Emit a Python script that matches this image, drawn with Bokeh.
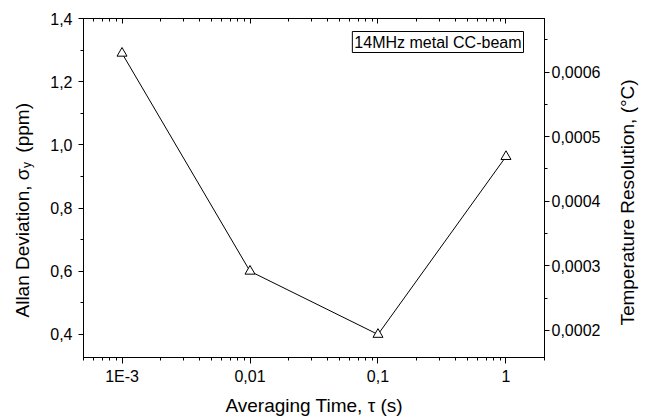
import math
from bokeh.plotting import figure
from bokeh.models import (Range1d, LinearAxis, LogAxis, FixedTicker, SingleIntervalTicker,
                          CustomJSTickFormatter, Label, ColumnDataSource)
from bokeh.embed import file_html
from bokeh.resources import INLINE

# ---- data ----
tau = [0.001, 0.01, 0.1, 1]
allan_dev = [1.29, 0.60, 0.40, 0.963]
x_tick_values = [0.001, 0.01, 0.1, 1]
x_tick_labels = ["1E-3", "0,01", "0,1", "1"]
box_text = "14MHz metal CC-beam"
x_title = "Averaging Time, \u03c4 (s)"
y_title_main = "Allan Deviation, \u03c3\u00a0\u00a0\u00a0(ppm)"
y_title_sub = "y"
y2_title = "Temperature Resolution, (\u00b0C)"

FONT = "Liberation Sans"
TICK_FS = "16px"
TITLE_FS = "19px"

p = figure(width=648, height=418, x_axis_type="log",
           x_range=Range1d(0.0005, 2), y_range=Range1d(0.327, 1.4001),
           output_backend="svg", toolbar_location=None,
           min_border_left=83, min_border_right=104, min_border_top=18, min_border_bottom=61)
p.extra_y_ranges = {"temp": Range1d(0.000158, 0.000683)}
p.xgrid.visible = False
p.ygrid.visible = False
p.outline_line_color = "black"
p.outline_line_alpha = 1.0
p.background_fill_color = "white"
p.border_fill_color = "white"

minor = []
for d in [0.0001, 0.001, 0.01, 0.1, 1]:
    for m in range(2, 10):
        v = m * d
        if 0.0005 <= v <= 2.0001:
            minor.append(v)
x_ticker = FixedTicker(ticks=x_tick_values, minor_ticks=minor)
x_fmt = CustomJSTickFormatter(args=dict(vals=x_tick_values, labs=x_tick_labels), code="""
    let best = 0, bd = 1e9;
    for (let i = 0; i < vals.length; i++) {
        const d = Math.abs(Math.log10(vals[i]) - Math.log10(tick));
        if (d < bd) { bd = d; best = i; }
    }
    return labs[best];
""")


def style(ax, maj_in, maj_out, min_in, min_out, standoff):
    ax.axis_line_color = "black"
    ax.axis_line_width = 1
    ax.major_tick_line_color = "black"
    ax.minor_tick_line_color = "black"
    ax.major_tick_in = maj_in
    ax.major_tick_out = maj_out
    ax.minor_tick_in = min_in
    ax.minor_tick_out = min_out
    ax.major_label_text_font = FONT
    ax.major_label_text_font_size = TICK_FS
    ax.major_label_text_color = "black"
    ax.major_label_standoff = standoff


xa = p.xaxis[0]
xa.ticker = x_ticker
xa.formatter = x_fmt
style(xa, 0, 6, 0, 3, 4)

ya = p.yaxis[0]
ya.ticker = SingleIntervalTicker(interval=0.2, num_minor_ticks=2)
ya.formatter = CustomJSTickFormatter(code="return tick.toFixed(1).replace('.', ',');")
style(ya, 0, 5, 0, 3, 6)

top = LogAxis(ticker=x_ticker, formatter=CustomJSTickFormatter(code="return '';"))
style(top, 5, 0, 3, 0, 0)
top.major_label_text_font_size = "0px"
p.add_layout(top, "above")

ra = LinearAxis(y_range_name="temp",
                ticker=SingleIntervalTicker(interval=0.0001, num_minor_ticks=2),
                formatter=CustomJSTickFormatter(code="return tick.toFixed(4).replace('.', ',');"))
style(ra, 0, 5, 0, 3, 2)
p.add_layout(ra, "right")

src = ColumnDataSource(dict(x=tau, y=allan_dev))
p.line("x", "y", source=src, line_color="black", line_width=1)
p.scatter("x", "y", source=src, marker="triangle", size=10, line_color="black",
          fill_color="white", line_width=1)

p.add_layout(Label(text=box_text, x=440, y=326, x_units="screen", y_units="screen",
                   text_align="right", text_baseline="top", text_font=FONT,
                   text_font_size="16px", text_color="black",
                   border_line_color="black", border_line_width=1,
                   background_fill_color="white", padding=2))


def title_label(text, x, y, angle, align, fs=TITLE_FS):
    return Label(text=text, x=x, y=y, x_units="canvas", y_units="canvas", angle=angle,
                 text_align=align, text_baseline="alphabetic", text_font=FONT,
                 text_font_size=fs, text_color="black")


p.add_layout(title_label(x_title, 313.7, 405, 0, "center"), "below")
p.add_layout(title_label(y_title_main, 22, 317, math.pi / 2, "left"), "left")
p.add_layout(title_label(y_title_sub, 26, 167.5, math.pi / 2, "left", fs="12px"), "above")
p.add_layout(title_label(y2_title, 627, 202, math.pi / 2, "center"), "right")

open("out.html", "w").write(file_html(p, INLINE))
